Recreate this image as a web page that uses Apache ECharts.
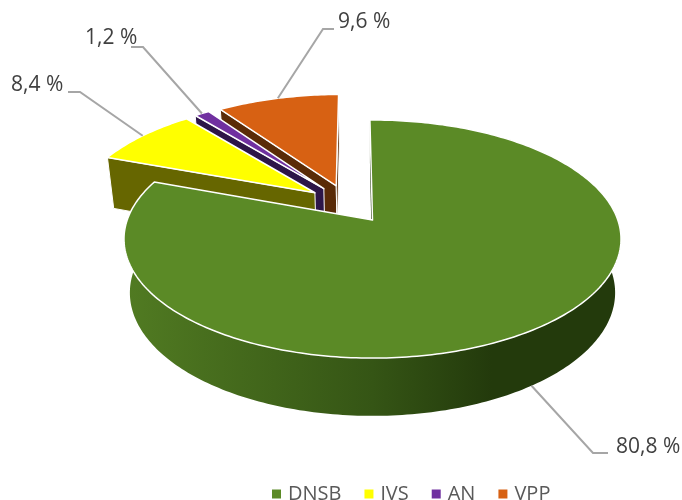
<!DOCTYPE html>
<html>
<head>
<meta charset="utf-8">
<script src="https://cdn.jsdelivr.net/npm/echarts@6/dist/echarts.min.js"></script>
<style>
  html, body { margin: 0; padding: 0; background: #fff; }
  #main { width: 682px; height: 500px; }
</style>
</head>
<body>
<div id="main"></div>
<script>
var categories = ['DNSB', 'JVS', 'AN', 'VPP'];
var values = [80.8, 8.4, 1.2, 9.6];
var labels = ['80,8 %', '8,4 %', '1,2 %', '9,6 %'];

var topColors = ['#5b8a26', '#ffff00', '#7030a0', '#d76113'];
var wallColors = ['#233a0c', '#666600', '#2d1648', '#5a2b07'];

// leader line elbow, line end and text position for each label
var labelLayout = [
  { elbow: [593, 453], end: [608, 453], text: [616, 447] },
  { elbow: [80, 92], end: [68, 92], text: [11, 85] },
  { elbow: [143, 47], end: [131, 47], text: [85, 38] },
  { elbow: [323, 29], end: [334, 29], text: [338, 22] }
];

// perspective of the pie plate, origin is the apex of the big slice
var cx = 372.5, cy = 220;
var persp = 0.16;
var topPlane = { a: 245.3, b: 116, dy: 0 };
var lowPlane = { a: 239.5, b: 120, dy: 53 };
var explode = 0.175;
var startDeg = -0.7;

var total = values.reduce(function (s, v) { return s + v; }, 0);

function dir(deg) {
  var r = deg * Math.PI / 180;
  return [Math.sin(r), -Math.cos(r)];
}
function project(plane, u, v) {
  var d = 1 - persp * v;
  return [cx + plane.a * u / d, cy + plane.dy + plane.b * v / d];
}
function sliceAngles(idx) {
  var before = 0;
  for (var i = 0; i < idx; i++) before += values[i];
  var a0 = startDeg + before / total * 360;
  var a1 = a0 + values[idx] / total * 360;
  return [a0, a1];
}
// the big slice stays at the origin, all others move away from it
function sliceOffset(idx) {
  var g = sliceAngles(0), s = sliceAngles(idx);
  var dg = dir((g[0] + g[1]) / 2), ds = dir((s[0] + s[1]) / 2);
  return [explode * (ds[0] - dg[0]), explode * (ds[1] - dg[1])];
}
function rim(plane, a0, a1, off) {
  var pts = [];
  var n = Math.max(2, Math.ceil(a1 - a0));
  for (var i = 0; i <= n; i++) {
    var d = dir(a0 + (a1 - a0) * i / n);
    pts.push(project(plane, off[0] + d[0], off[1] + d[1]));
  }
  return pts;
}
// a wall is only drawn when it turns towards the viewer
function facesViewer(deg) {
  return dir(deg)[1] > -0.1;
}

function renderSlice(idx, params, api) {
  var ang = sliceAngles(idx);
  var off = sliceOffset(idx);
  var topRim = rim(topPlane, ang[0], ang[1], off);
  var topApex = project(topPlane, off[0], off[1]);
  var lowApex = project(lowPlane, off[0], off[1]);
  var children = [];
  var big = idx === 0;

  function wall(points, fill) {
    children.push({
      type: 'polygon',
      shape: { points: points },
      style: { fill: fill, stroke: big ? null : '#fff', lineWidth: big ? 0 : 1, lineJoin: 'round' }
    });
  }

  // outer wall, limited to the front half of the plate
  var front0 = Math.max(ang[0], 84.3), front1 = Math.min(ang[1], 275.7);
  if (front1 > front0) {
    var outerFill = wallColors[idx];
    if (big) {
      outerFill = new echarts.graphic.LinearGradient(0, 0, 1, 0, [
        { offset: 0, color: '#517b22' },
        { offset: 0.5, color: '#355515' },
        { offset: 0.74, color: '#233a0c' },
        { offset: 1, color: '#233a0c' }
      ]);
    }
    wall(rim(topPlane, front0, front1, off).concat(rim(lowPlane, front0, front1, off).reverse()), outerFill);
  }
  // cut faces
  if (facesViewer(ang[0] - 90)) {
    var d0 = dir(ang[0]);
    wall([topApex, topRim[0], project(lowPlane, off[0] + d0[0], off[1] + d0[1]), lowApex], wallColors[idx]);
  }
  if (facesViewer(ang[1] + 90)) {
    var d1 = dir(ang[1]);
    wall([topApex, topRim[topRim.length - 1], project(lowPlane, off[0] + d1[0], off[1] + d1[1]), lowApex], wallColors[idx]);
  }

  children.push({
    type: 'polygon',
    shape: { points: [topApex].concat(topRim) },
    style: { fill: topColors[idx], stroke: '#fff', lineWidth: 1.5, lineJoin: 'round' }
  });

  // leader line starts on the slice edge, for the big one on the lower rim
  var md = dir((ang[0] + ang[1]) / 2);
  var start = project(big ? lowPlane : topPlane, off[0] + md[0], off[1] + md[1]);
  var lay = labelLayout[idx];
  children.push({
    type: 'polyline',
    shape: { points: [start, lay.elbow, lay.end] },
    style: { fill: null, stroke: '#a6a6a6', lineWidth: 2 }
  });
  children.push({
    type: 'text',
    style: {
      text: labels[idx],
      x: lay.text[0],
      y: lay.text[1],
      fill: '#404040',
      font: '21px "Open Sans"',
      textAlign: 'left',
      textVerticalAlign: 'middle'
    }
  });
  return { type: 'group', children: children };
}

var chart = echarts.init(document.getElementById('main'));
chart.setOption({
  animation: false,
  backgroundColor: '#fff',
  tooltip: { show: false },
  legend: {
    data: categories,
    left: 272,
    top: 484,
    padding: 0,
    icon: 'rect',
    itemWidth: 9,
    itemHeight: 9,
    itemGap: 23,
    selectedMode: false,
    textStyle: { color: '#595959', fontFamily: 'Open Sans', fontSize: 20, padding: [0, 0, 0, 2] }
  },
  // back slices first so the big slice covers them
  series: categories.map(function (name, i) {
    return {
      name: name,
      type: 'custom',
      coordinateSystem: 'none',
      itemStyle: { color: topColors[i] },
      data: [values[i]],
      renderItem: function (params, api) { return renderSlice(i, params, api); }
    };
  }).reverse()
});
</script>
</body>
</html>
